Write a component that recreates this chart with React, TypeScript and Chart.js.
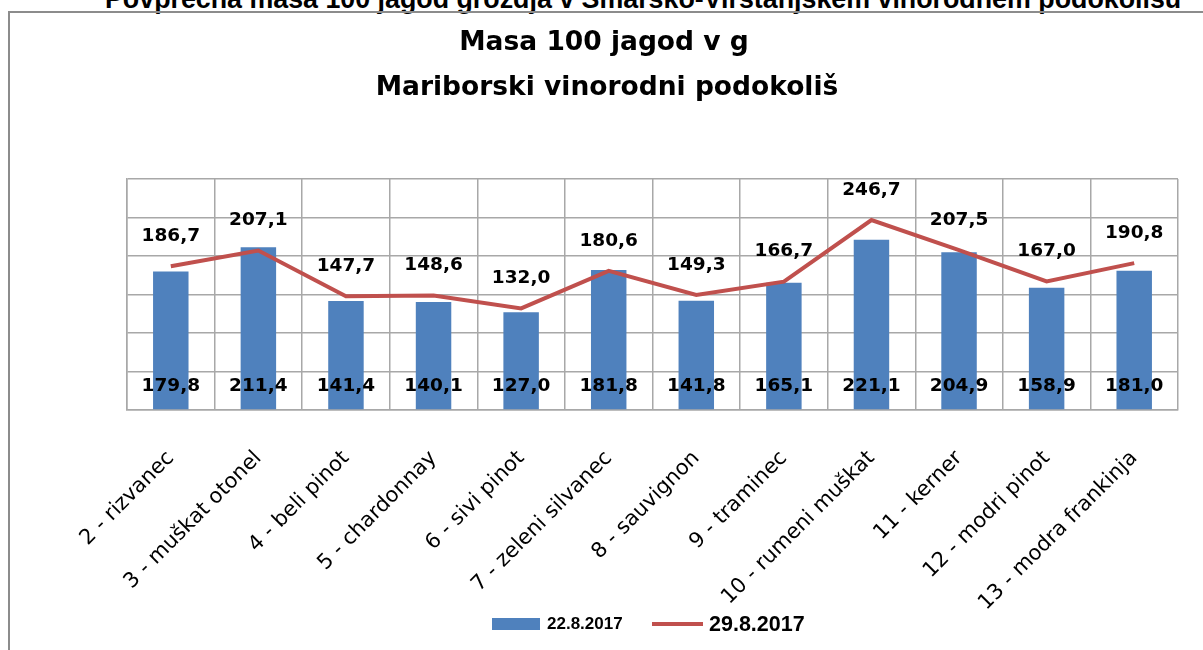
import React, { useEffect, useRef } from 'react';
import { Chart, registerables } from 'chart.js';

Chart.register(...registerables);

const pageTitle = 'Povprečna masa 100 jagod grozdja v Šmarsko-Virštanjskem vinorodnem podokolišu';
const chartTitleLine1 = 'Masa 100 jagod v g';
const chartTitleLine2 = 'Mariborski vinorodni podokoliš';

const categories = [
  '2 - rizvanec',
  '3 - muškat otonel',
  '4 - beli pinot',
  '5 - chardonnay',
  '6 - sivi pinot',
  '7 - zeleni silvanec',
  '8 - sauvignon',
  '9 - traminec',
  '10 - rumeni muškat',
  '11 - kerner',
  '12 - modri pinot',
  '13 - modra frankinja',
];

const barLabel = '22.8.2017';
const barValues = [179.8, 211.4, 141.4, 140.1, 127.0, 181.8, 141.8, 165.1, 221.1, 204.9, 158.9, 181.0];

const lineLabel = '29.8.2017';
const lineValues = [186.7, 207.1, 147.7, 148.6, 132.0, 180.6, 149.3, 166.7, 246.7, 207.5, 167.0, 190.8];

const yMin = 0;
const yMax = 300;
const yStep = 50;

const BAR_COLOR = '#4F81BD';
const LINE_COLOR = '#C0504D';
const GRID_COLOR = '#a8a8a8';

const fmt = (v: number) => v.toFixed(1).replace('.', ',');

const valueLabelsPlugin = {
  id: 'valueLabels',
  afterDatasetsDraw(chart: any) {
    const ctx = chart.ctx;
    const area = chart.chartArea;
    ctx.save();
    ctx.font = 'bold 18.5px "DejaVu Sans"';
    ctx.fillStyle = '#000';
    ctx.textAlign = 'center';
    ctx.textBaseline = 'middle';
    const barMeta = chart.getDatasetMeta(0);
    barMeta.data.forEach((el: any, i: number) => {
      ctx.fillText(fmt(barValues[i]), el.x, area.bottom - 24);
    });
    const lineMeta = chart.getDatasetMeta(1);
    lineMeta.data.forEach((el: any, i: number) => {
      ctx.fillText(fmt(lineValues[i]), el.x, el.y - 30);
    });
    ctx.restore();
  },
};

export default function App() {
  const canvasRef = useRef<HTMLCanvasElement | null>(null);

  useEffect(() => {
    document.body.style.margin = '0';
    const canvas = canvasRef.current;
    if (!canvas) return;
    const chart = new Chart(canvas, {
      type: 'bar',
      data: {
        labels: categories,
        datasets: [
          {
            type: 'bar',
            label: barLabel,
            data: barValues,
            backgroundColor: BAR_COLOR,
            borderWidth: 0,
            barPercentage: 0.405,
            categoryPercentage: 1,
            order: 2,
          } as any,
          {
            type: 'line',
            label: lineLabel,
            data: lineValues,
            borderColor: LINE_COLOR,
            backgroundColor: LINE_COLOR,
            borderWidth: 4,
            pointRadius: 0,
            pointHoverRadius: 0,
            tension: 0,
            fill: false,
            order: 1,
          } as any,
        ],
      },
      options: {
        responsive: false,
        animation: false,
        devicePixelRatio: 1,
        layout: { padding: { left: 127, right: 25, top: 179, bottom: 0 } },
        plugins: {
          legend: { display: false },
          title: { display: false },
          tooltip: { enabled: false },
        },
        scales: {
          x: {
            grid: { color: GRID_COLOR, lineWidth: 1.5, drawTicks: false, offset: true },
            border: { display: true, color: GRID_COLOR, width: 1.5 },
            ticks: {
              color: '#000',
              font: { family: 'DejaVu Sans', size: 21 },
              maxRotation: 45,
              minRotation: 45,
              autoSkip: false,
              padding: 36,
              labelOffset: 0,
            },
            afterFit: (scale: any) => {
              scale.height = 240;
            },
          },
          y: {
            min: yMin,
            max: yMax,
            ticks: { stepSize: yStep, display: false },
            grid: { color: GRID_COLOR, lineWidth: 1.5, drawTicks: false },
            border: { display: true, color: GRID_COLOR, width: 1.5 },
            afterFit: (scale: any) => {
              scale.width = 0;
            },
          },
        },
      } as any,
      plugins: [valueLabelsPlugin],
    });
    return () => chart.destroy();
  }, []);

  return (
    <div
      style={{
        position: 'absolute',
        left: 0,
        top: 0,
        width: 1203,
        height: 650,
        overflow: 'hidden',
        background: '#fff',
      }}
    >
      <div
        style={{
          position: 'absolute',
          left: 105,
          top: -14,
          whiteSpace: 'nowrap',
          font: 'bold 26.8px "Liberation Sans", Arial, sans-serif',
          lineHeight: '26.8px',
          color: '#000',
        }}
      >
        {pageTitle}
      </div>
      <div
        style={{
          position: 'absolute',
          left: 8,
          top: 11,
          width: 1400,
          height: 900,
          border: '2px solid #8c8c8c',
          boxSizing: 'border-box',
        }}
      />
      <canvas
        ref={canvasRef}
        width={1203}
        height={650}
        style={{ position: 'absolute', left: 0, top: 0, width: 1203, height: 650 }}
      />
      <div
        style={{
          position: 'absolute',
          left: 0,
          width: 1208,
          top: 25,
          textAlign: 'center',
          font: 'bold 26.5px "DejaVu Sans", sans-serif',
          lineHeight: '32px',
          color: '#000',
          whiteSpace: 'nowrap',
        }}
      >
        {chartTitleLine1}
      </div>
      <div
        style={{
          position: 'absolute',
          left: 0,
          width: 1214,
          top: 70,
          textAlign: 'center',
          font: 'bold 26.5px "DejaVu Sans", sans-serif',
          lineHeight: '32px',
          color: '#000',
          whiteSpace: 'nowrap',
        }}
      >
        {chartTitleLine2}
      </div>
      <div style={{ position: 'absolute', left: 492, top: 618, width: 48, height: 12, background: BAR_COLOR }} />
      <div
        style={{
          position: 'absolute',
          left: 547,
          top: 614,
          font: 'bold 17px "Liberation Sans", Arial, sans-serif',
          lineHeight: '20px',
          color: '#000',
          whiteSpace: 'nowrap',
        }}
      >
        {barLabel}
      </div>
      <div style={{ position: 'absolute', left: 652, top: 622, width: 51, height: 4, background: LINE_COLOR }} />
      <div
        style={{
          position: 'absolute',
          left: 709,
          top: 611,
          font: 'bold 21.5px "Liberation Sans", Arial, sans-serif',
          lineHeight: '26px',
          color: '#000',
          whiteSpace: 'nowrap',
        }}
      >
        {lineLabel}
      </div>
    </div>
  );
}
